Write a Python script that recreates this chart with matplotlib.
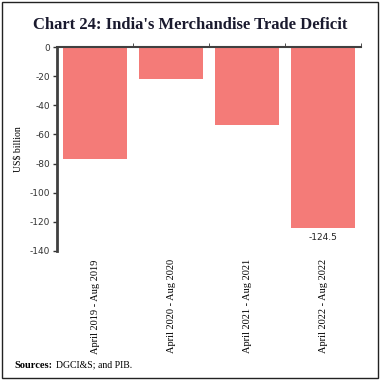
import matplotlib.pyplot as plt
from matplotlib.patches import Rectangle

plt.rcParams["axes.unicode_minus"] = False

# data
periods = ["April 2019 - Aug 2019", "April 2020 - Aug 2020",
           "April 2021 - Aug 2021", "April 2022 - Aug 2022"]
deficit = [-76.9, -21.6, -53.8, -124.5]
yticks = [0, -20, -40, -60, -80, -100, -120, -140]

fig = plt.figure(figsize=(3.8, 3.83), dpi=100)
ax = fig.add_axes([0.15, 0.345, 0.80, 0.532])

x = list(range(len(periods)))
bars = ax.bar(x, deficit, width=0.84, color="#F47B78", zorder=2)

ax.set_xlim(-0.5, len(periods) - 0.5)
ax.set_ylim(-140, 0)
ax.set_yticks(yticks)
ax.tick_params(axis="y", labelsize=6.5, length=3, width=1, colors="#333333", pad=2)

# category labels at bottom, rotated
ax.set_xticks(x)
ax.set_xticklabels(periods, rotation=90, fontsize=7.5, family="Liberation Serif")
ax.tick_params(axis="x", which="major", length=0, pad=6, labelbottom=True)

# zero line with separators on top
ax.set_xticks([i + 0.5 for i in x], minor=True)
ax.tick_params(axis="x", which="minor", top=True, bottom=False, length=3,
               direction="out", color="#333333")

for s in ["right", "bottom"]:
    ax.spines[s].set_visible(False)
ax.spines["left"].set_linewidth(2)
ax.spines["left"].set_color("#404040")
ax.spines["top"].set_linewidth(1.5)
ax.spines["top"].set_color("#404040")

ax.set_ylabel("US$ billion", fontsize=7, family="Liberation Serif", labelpad=2)
ax.yaxis.set_label_coords(-0.115, 0.5)

# value label on last bar
ax.text(x[-1], deficit[-1] - 3, f"{deficit[-1]}", ha="center", va="top",
        fontsize=6.5, color="#222222")

fig.text(0.5, 0.935, "Chart 24: India's Merchandise Trade Deficit", ha="center",
         va="center", fontsize=12, fontweight="bold", family="Liberation Serif",
         color="#1a1a2e")
fig.text(0.037, 0.04, "Sources:", fontsize=7.5, fontweight="bold",
         family="Liberation Serif", va="baseline")
fig.text(0.148, 0.04, "DGCI&S; and PIB.", fontsize=7,
         family="Liberation Serif", va="baseline")

fig.patches.append(Rectangle((0.005, 0.013), 0.99, 0.982, transform=fig.transFigure,
                             fill=False, edgecolor="#222222", linewidth=1))

fig.savefig("out.png", dpi=100)
